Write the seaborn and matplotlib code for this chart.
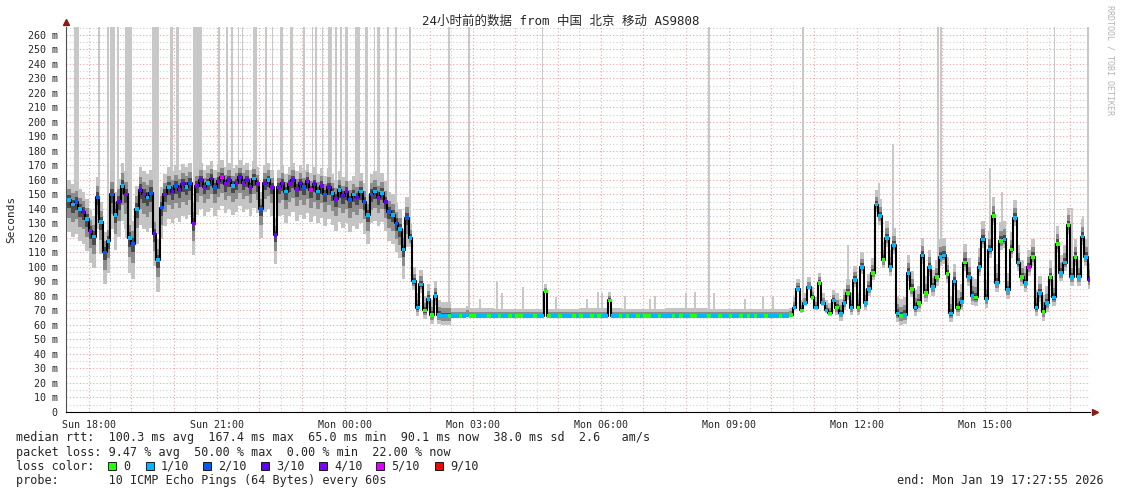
import numpy as np
import matplotlib
matplotlib.use("Agg")
import matplotlib.pyplot as plt
import seaborn as sns
from matplotlib.patches import Rectangle

# median rtt in ms, 5 minute steps starting Sun 17:30, one row per hour
med_rows = [
    [146, 143, 145, 140, 138, 133, 125, 121, 148, 131, 110, 118],   # 17:30
    [150, 136, 145, 156, 150, 120, 116, 140, 153, 150, 148, 151],   # 18:30
    [123, 105, 141, 150, 155, 152, 156, 153, 157, 155, 158, 130],   # 19:30
    [156, 160, 155, 158, 161, 155, 159, 162, 157, 160, 156, 158],   # 20:30
    [162, 158, 160, 155, 161, 157, 140, 158, 160, 155, 122, 155],   # 21:30
    [158, 152, 157, 160, 154, 158, 155, 159, 153, 157, 152, 156],   # 22:30
    [150, 155, 151, 147, 153, 149, 152, 146, 150, 148, 152, 145],   # 23:30
    [136, 150, 152, 148, 151, 145, 138, 136, 130, 126, 112, 134],   # 00:30
    [120, 90, 72, 88, 70, 78, 67, 80, 67, 66, 66, 66],              # 01:30
    [66, 66, 66, 66, 67, 66, 66, 66, 66, 66, 66, 66],               # 02:30
    [66, 66, 66, 66, 66, 66, 66, 66, 66, 66, 66, 66],               # 03:30
    [66, 66, 83, 66, 66, 66, 66, 66, 66, 66, 66, 66],               # 04:30
    [66, 66, 66, 66, 66, 66, 66, 66, 77, 66, 66, 66],               # 05:30
    [66, 66, 66, 66, 66, 66, 66, 66, 66, 66, 66, 66],               # 06:30
    [66, 66, 66, 66, 66, 66, 66, 66, 66, 66, 66, 66],               # 07:30
    [66, 66, 66, 66, 66, 66, 66, 66, 66, 66, 66, 66],               # 08:30
    [66, 66, 66, 66, 66, 66, 66, 66, 66, 66, 66, 67],               # 09:30
    [72, 85, 70, 75, 86, 79, 72, 89, 75, 70, 68, 77],               # 10:30
    [72, 68, 75, 82, 72, 91, 72, 100, 75, 85, 96, 143],             # 11:30
    [135, 105, 120, 100, 115, 68, 66, 67, 96, 85, 72, 75],          # 12:30
    [108, 82, 100, 86, 93, 107, 108, 95, 68, 90, 72, 76],           # 13:30
    [103, 93, 80, 79, 100, 119, 78, 112, 135, 89, 118, 119],        # 14:30
    [84, 112, 134, 103, 93, 89, 100, 107, 72, 82, 69, 75],          # 15:30
    [93, 79, 116, 96, 103, 129, 93, 107, 93, 121, 107, 91],         # 16:30
]

# lost pings out of 10 for every step, one row per hour
loss_rows = [
    "112131412121", "213141213412", "312413243124", "434132454314",
    "343414231434", "414343245314", "231413421312", "121413212112",
    "111101011110", "110110011101", "101101001110", "110011011101",
    "011010110110", "101101001101", "110101100111", "011011011010",
    "101101110110", "110110101101", "011011011101", "101111011010",
    "101101101101", "011011110101", "101101501101", "010110101113",
]

# smoke extent above / below the median, one value per hour
smoke_up = [14, 16, 14, 12, 12, 12, 13, 14, 10, 6, 5, 5, 6, 5, 6, 5, 5, 7, 10, 12, 12, 13, 12, 12]
smoke_dn = [22, 24, 22, 20, 20, 22, 22, 20, 6, 1, 1, 1, 1, 1, 1, 1, 1, 2, 5, 6, 6, 6, 6, 6]

# single slow pings (hour of day, top in ms, width in minutes); 300 = off the chart
spike_hour = [17.71, 18.23, 18.44, 18.55, 18.69, 18.93, 19.56, 19.94, 20.08, 20.55,
              21.05, 21.24, 21.36, 21.51, 21.60, 21.90, 22.15, 22.31, 22.52, 22.75,
              23.05, 23.24, 23.33, 23.48, 23.65, 23.79, 23.91, 24.04, 24.30, 24.51,
              24.69, 24.79, 25.02, 25.20, 25.53, 26.44, 26.91, 28.64, 32.53, 34.74,
              37.90, 37.97, 40.64, 41.42,
              27.17, 27.57, 27.69, 28.18, 28.95, 29.68, 29.94, 30.03, 30.57, 31.15,
              31.27, 31.99, 32.21, 32.65, 33.38, 33.80, 34.03,
              35.79, 36.52, 36.85, 39.12, 39.40, 41.04, 41.30]
spike_top = [300] * 44 + [78, 90, 82, 86, 79, 78, 83, 82, 80, 78,
                          80, 82, 83, 82, 78, 80, 80,
                          115, 158, 185, 168, 152, 141, 135]
spike_min = [7, 3, 3, 7, 3, 10, 10, 5, 4, 12,
             3, 2, 2, 2, 2, 5, 3, 2, 4, 4,
             3, 2, 3, 2, 5, 3, 3, 4, 7, 4,
             2, 3, 3, 3, 3, 2, 2, 2, 3, 2,
             2, 2, 2, 2] + [3] * 24

loss_colors = {0: "#26ff00", 1: "#00b8ff", 2: "#0059ff", 3: "#5e00ff",
               4: "#7e00ff", 5: "#dd00ff", 9: "#ff0000"}
loss_names = ["0", "1/10", "2/10", "3/10", "4/10", "5/10", "9/10"]

title = "24小时前的数据 from 中国 北京 移动 AS9808"
t_start, t_end = 17.4653, 41.4653   # Sun 17:27:55 .. Mon 17:27:55

med = np.array([v for row in med_rows for v in row], dtype=float)
loss = np.array([int(c) for row in loss_rows for c in row])
t = 17.5 + np.arange(len(med)) / 12 + 1 / 24
up = np.repeat(smoke_up, 12)
dn = np.repeat(smoke_dn, 12)

sns.set_style("white")
plt.rcParams["font.family"] = ["DejaVu Sans Mono", "Noto Sans CJK SC"]

fig = plt.figure(figsize=(11.21, 4.94), dpi=100)
ax = fig.add_axes([66 / 1121, 82 / 494, 1024 / 1121, 385 / 494])

# slow single pings
for h, top, w in zip(spike_hour, spike_top, spike_min):
    base = med[np.abs(t - h).argmin()]
    ax.bar(h, min(top, 300) - base, bottom=base, width=w / 60,
           color="#c8c8c8", linewidth=0, zorder=2)

# smoke
step = 1 / 12
ax.bar(t, up + dn, bottom=med - dn, width=step, color="#c4c4c4", linewidth=0, zorder=3)
ax.bar(t, 0.55 * (up + dn), bottom=med - 0.55 * dn, width=step, color="#8c8c8c", linewidth=0, zorder=3)
ax.bar(t, 0.25 * (up + dn), bottom=med - 0.25 * dn, width=step, color="#4a4a4a", linewidth=0, zorder=3)

# median line and loss colours
sns.lineplot(x=t, y=med, drawstyle="steps-mid", color="black", lw=1.5,
             estimator=None, ax=ax, zorder=4)
sns.scatterplot(x=t, y=med, hue=loss, palette=loss_colors, marker="s", s=7,
                linewidth=0, legend=False, ax=ax, zorder=5)

ax.set_xlim(t_start, t_end)
ax.set_ylim(0, 265.5)

hours = np.arange(18, 42)
ax.set_xticks(hours)
ax.set_xticklabels([("Sun " if h < 24 else "Mon ") + f"{h % 24:02d}:00" if h % 3 == 0 else ""
                    for h in hours], fontsize=7.2)
ax.set_xticks(np.arange(18.5, 41.5, 1), minor=True)
ax.set_yticks(np.arange(0, 261, 10))
ax.set_yticklabels(["0"] + [f"{v} m" for v in range(10, 261, 10)], fontsize=7.2)
ax.set_yticks(np.arange(5, 266, 10), minor=True)
ax.tick_params(axis="both", which="major", length=3, color="#f0a0a0", pad=3)
ax.tick_params(axis="both", which="minor", length=0)
ax.grid(which="major", color="#f4a0a0", lw=0.8, ls=(0, (1, 2)), zorder=1)
ax.grid(which="minor", color="#cfcfcf", lw=0.8, ls=(0, (1, 2)), zorder=1)
ax.set_axisbelow(True)
for s in ["top", "right"]:
    ax.spines[s].set_visible(False)
ax.spines["bottom"].set_color("black")
ax.spines["left"].set_color("#505050")
ax.spines["left"].set_linewidth(0.8)
ax.set_ylabel("Seconds", fontsize=8, labelpad=8)

# axis arrows
ax.plot([0], [1.013], marker="^", ms=5, color="#8b1a1a", transform=ax.transAxes, clip_on=False)
ax.plot([1.005], [0], marker=">", ms=5, color="#8b1a1a", transform=ax.transAxes, clip_on=False)

fig.text(0.5, 1 - 21 / 494, title, ha="center", va="center", fontsize=9)
fig.text(1110 / 1121, 1 - 5 / 494, "RRDTOOL / TOBI OETIKER", rotation=270,
         ha="center", va="top", fontsize=6, color="#b4b4b4")

fs = 8.5
x0 = 16 / 1121
fig.text(x0, 1 - 437 / 494, "median rtt:  100.3 ms avg  167.4 ms max  65.0 ms min  90.1 ms now  38.0 ms sd  2.6   am/s",
         va="center", fontsize=fs)
fig.text(x0, 1 - 452 / 494, "packet loss: 9.47 % avg  50.00 % max  0.00 % min  22.00 % now",
         va="center", fontsize=fs)
fig.text(x0, 1 - 466 / 494, "loss color:", va="center", fontsize=fs)
sq_x = [108, 146, 203, 261, 319, 376, 435]
for px, name, code in zip(sq_x, loss_names, [0, 1, 2, 3, 4, 5, 9]):
    fig.patches.append(Rectangle((px / 1121, 1 - 470 / 494), 8 / 1121, 8 / 494,
                                 transform=fig.transFigure, facecolor=loss_colors[code],
                                 edgecolor="black", lw=0.6))
    fig.text((px + 15) / 1121, 1 - 466 / 494, name, va="center", fontsize=fs)
fig.text(x0, 1 - 480 / 494, "probe:       10 ICMP Echo Pings (64 Bytes) every 60s",
         va="center", fontsize=fs)
fig.text(1104 / 1121, 1 - 480 / 494, "end: Mon Jan 19 17:27:55 2026",
         ha="right", va="center", fontsize=fs)

fig.savefig("out.png", dpi=100)
